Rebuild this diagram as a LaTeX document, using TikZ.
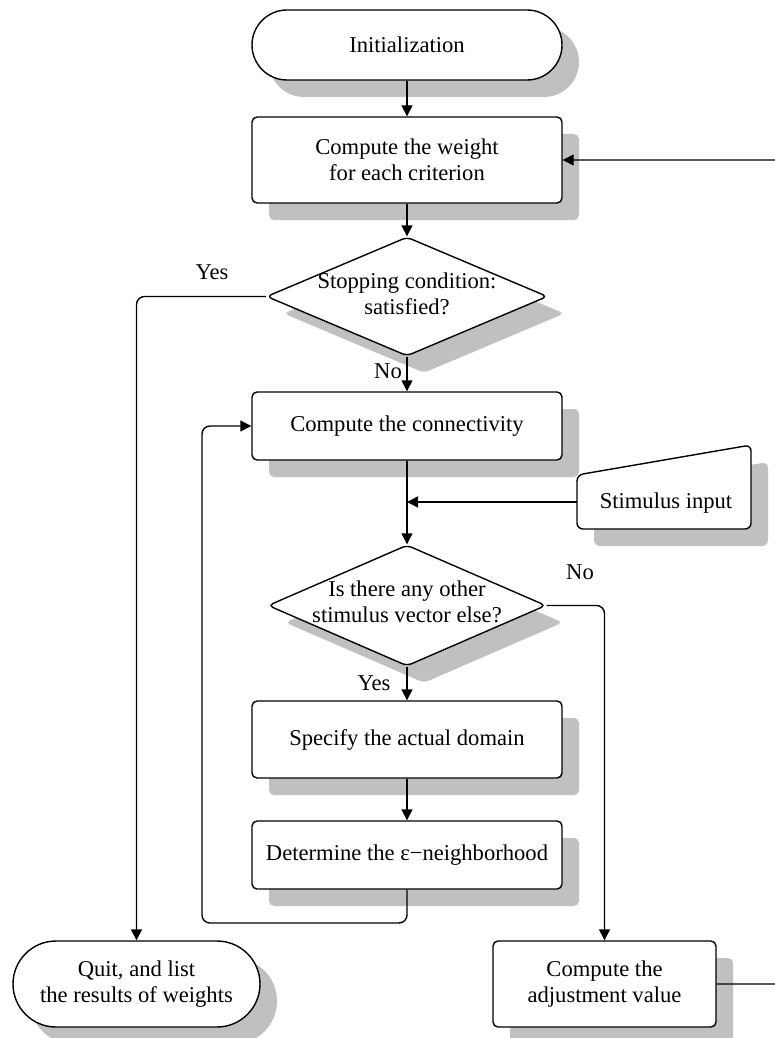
\documentclass[tikz,border=0pt]{standalone}
\usepackage{fontspec}
\setmainfont{Liberation Serif}
\usetikzlibrary{shapes.geometric,shapes.misc,shadows,arrows.meta}
\definecolor{shadowgray}{RGB}{192,192,192}
\begin{document}
\begin{tikzpicture}[x=0.5pt,y=-0.5pt,
  font=\fontsize{11.3}{13}\selectfont,
  every node/.style={inner sep=0pt},
  flow/.style={line width=0.7pt, line join=round},
  arr/.style={flow, -{Triangle[length=5.5pt,width=5.5pt]}},
  shade/.style={drop shadow={shadow xshift=8.5pt,shadow yshift=-8.5pt,fill=shadowgray,opacity=1}},
  procbox/.style={draw, flow, fill=white, rounded corners=2.5pt, minimum width=155pt, align=center, shade},
  terminal/.style={draw, flow, fill=white, rounded rectangle, rounded rectangle arc length=180, align=center, shade},
  decision/.style={draw, flow, fill=white, diamond, rounded corners=2.5pt, shade},
  lbl/.style={inner sep=0pt}]

\useasboundingbox (0,0) rectangle (775,1038);
\clip (0,0) rectangle (775,1038);

% main column
\node[terminal, minimum width=155pt, minimum height=35pt] (init) at (407,45) {Initialization};
\node[procbox, minimum height=43pt] (weight) at (407,160) {Compute the weight\\for each criterion};
\node[decision, minimum width=140.5pt, minimum height=59.5pt] (stop) at (407,296.5) {};
\node[align=center] (stopt) at (407,294) {Stopping condition:\\satisfied?};
\node[procbox, minimum height=34pt] (conn) at (407,426) {Compute the connectivity};
\node[decision, minimum width=139pt, minimum height=60.5pt] (other) at (407,605.5) {};
\node[align=center] (othert) at (407,602) {Is there any other\\stimulus vector else?};
\node[procbox, minimum height=38.5pt] (spec) at (407,739.5) {Specify the actual domain};
\node[procbox, minimum height=34pt] (eps) at (407,855) {Determine the ε−neighborhood};

% end nodes
\node[terminal, minimum width=123.5pt, minimum height=43pt] (quit) at (136.5,984) {Quit, and list\\the results of weights};
\node[procbox, minimum width=111.5pt, minimum height=43pt] (adj) at (604.5,984) {Compute the\\adjustment value};

% manual input: stimulus
\fill[shadowgray, rounded corners=3pt] (594,492) -- (768,462) -- (768,546) -- (594,546) -- cycle;
\draw[flow, fill=white, rounded corners=3pt] (577,475) -- (751,445) -- (751,529) -- (577,529) -- cycle;
\node (stim) at (666,503) {Stimulus input};
\coordinate (stimw) at (577,502);

% connectors
\draw[arr] (init.south) -- (weight.north);
\draw[arr] (weight.south) -- (stop.north);
\draw[arr, rounded corners=4pt] (stop.west) -| (quit.north);
\node[lbl] (yes1) at (212,272) {Yes};
\draw[arr] (stop.south) -- (conn.north);
\node[lbl] (no1) at (388,371) {No};
\draw[arr] (conn.south) -- (other.north);
\draw[arr] (stimw) -- (stimw -| conn.south);
\draw[arr, rounded corners=4pt] (other.east) -| (adj.north);
\node[lbl] (no2) at (580,572) {No};
\draw[arr] (other.south) -- (spec.north);
\node[lbl] (yes2) at (374,683) {Yes};
\draw[arr] (spec.south) -- (eps.north);
\draw[arr, rounded corners=4pt] (eps.south) -- (407,923) -- (202,923) -- (202,426) -- (conn.west);
\draw[arr, rounded corners=4pt] (adj.east) -- (800,984) -- (800,160) -- (weight.east);
\end{tikzpicture}
\end{document}
